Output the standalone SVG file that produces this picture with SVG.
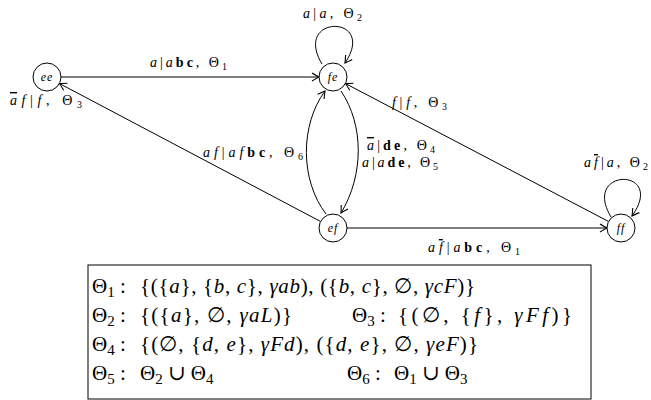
<svg xmlns="http://www.w3.org/2000/svg" width="651" height="400" viewBox="0 0 651 400">
<style>
text{font-family:"Liberation Serif","DejaVu Serif",serif;fill:#000}
.l{font-size:14px}
.n{font-size:12px;font-style:italic;letter-spacing:1px}
.t{font-size:21px}
.i{font-style:italic}
.b{font-weight:bold}
.o{text-decoration:overline}
.node circle{fill:#fff;stroke:#000;stroke-width:1}
.edge{fill:none;stroke:#000;stroke-width:1;marker-end:url(#ar)}
</style>
<defs>
<marker id="ar" markerUnits="userSpaceOnUse" markerWidth="12" markerHeight="12" refX="10" refY="6" orient="auto" viewBox="0 0 12 12">
<path d="M3,2 Q8,5 10,6 Q8,7 3,10" fill="none" stroke="#000" stroke-width="1.1"/>
</marker>
</defs>
<g id="connectors">
<line class="edge" x1="61" y1="77" x2="319" y2="77"/>
<line class="edge" x1="320.6" y1="221.5" x2="59.4" y2="83.5"/>
<line class="edge" x1="608.6" y1="221.5" x2="345.4" y2="83.5"/>
<line class="edge" x1="347" y1="228" x2="607" y2="228"/>
<path class="edge" d="M326,214 C300,180 300,125 325,91"/>
<path class="edge" d="M341,91 C364,125 364,175 341,213"/>
<path class="edge" d="M322,64 C292,14 378,14 345,63"/>
<path class="edge" d="M611,217 C581,167 667,167 632,216"/>
</g>
<g id="labels" class="l">
<text x="150" y="67" textLength="77"><tspan class="i">a</tspan>|<tspan class="i">a</tspan><tspan class="b">bc</tspan>, Θ<tspan font-size="10" dy="3">1</tspan></text>
<text x="10" y="105" textLength="72"><tspan class="i o">a</tspan><tspan class="i">f</tspan>|<tspan class="i">f</tspan>, Θ<tspan font-size="10" dy="3">3</tspan></text>
<text x="303" y="18" textLength="59"><tspan class="i">a</tspan>|<tspan class="i">a</tspan>, Θ<tspan font-size="10" dy="3">2</tspan></text>
<text x="392" y="107" textLength="55"><tspan class="i">f</tspan>|<tspan class="i">f</tspan>, Θ<tspan font-size="10" dy="3">3</tspan></text>
<text x="203" y="157" textLength="100"><tspan class="i">af</tspan>|<tspan class="i">af</tspan><tspan class="b">bc</tspan>, Θ<tspan font-size="10" dy="3">6</tspan></text>
<text x="367" y="150" textLength="68"><tspan class="i o">a</tspan>|<tspan class="b">de</tspan>, Θ<tspan font-size="10" dy="3">4</tspan></text>
<text x="362" y="167" textLength="76"><tspan class="i">a</tspan>|<tspan class="i">a</tspan><tspan class="b">de</tspan>, Θ<tspan font-size="10" dy="3">5</tspan></text>
<text x="584" y="167" textLength="64"><tspan class="i">a</tspan><tspan class="i o">f</tspan>|<tspan class="i">a</tspan>, Θ<tspan font-size="10" dy="3">2</tspan></text>
<text x="428" y="252" textLength="92"><tspan class="i">a</tspan><tspan class="i o">f</tspan>|<tspan class="i">a</tspan><tspan class="b">bc</tspan>, Θ<tspan font-size="10" dy="3">1</tspan></text>
</g>
<g id="ee" class="node"><circle cx="47" cy="77" r="14"/><text class="n" x="47" y="81" text-anchor="middle">ee</text></g>
<g id="fe" class="node"><circle cx="333" cy="77" r="14"/><text class="n" x="333" y="81" text-anchor="middle">fe</text></g>
<g id="ef" class="node"><circle cx="333" cy="228" r="14"/><text class="n" x="333" y="232" text-anchor="middle">ef</text></g>
<g id="ff" class="node"><circle cx="621" cy="228" r="14"/><text class="n" x="621" y="232" text-anchor="middle">ff</text></g>
<g id="table" class="t">
<rect x="88" y="265" width="503" height="134" fill="none" stroke="#000" stroke-width="1"/>
<text x="92" y="293">Θ<tspan font-size="15" dy="4">1</tspan><tspan dy="-4"> :</tspan></text>
<text x="140" y="293" textLength="335">{({<tspan class="i">a</tspan>}, {<tspan class="i">b</tspan>, <tspan class="i">c</tspan>}, <tspan class="i">γab</tspan>), ({<tspan class="i">b</tspan>, <tspan class="i">c</tspan>}, ∅, <tspan class="i">γcF</tspan>)}</text>
<text x="92" y="322">Θ<tspan font-size="15" dy="4">2</tspan><tspan dy="-4"> :</tspan></text>
<text x="140" y="322" textLength="152">{({<tspan class="i">a</tspan>}, ∅, <tspan class="i">γaL</tspan>)}</text>
<text x="352" y="322">Θ<tspan font-size="15" dy="4">3</tspan><tspan dy="-4"> :</tspan></text>
<text x="398" y="322" textLength="174">{(∅, {<tspan class="i">f</tspan>}, <tspan class="i">γFf</tspan>)}</text>
<text x="92" y="351">Θ<tspan font-size="15" dy="4">4</tspan><tspan dy="-4"> :</tspan></text>
<text x="140" y="351" textLength="338">{(∅, {<tspan class="i">d</tspan>, <tspan class="i">e</tspan>}, <tspan class="i">γFd</tspan>), ({<tspan class="i">d</tspan>, <tspan class="i">e</tspan>}, ∅, <tspan class="i">γeF</tspan>)}</text>
<text x="92" y="380">Θ<tspan font-size="15" dy="4">5</tspan><tspan dy="-4"> :</tspan></text>
<text x="140" y="380">Θ<tspan font-size="15" dy="4">2</tspan><tspan dy="-4"> ∪ Θ</tspan><tspan font-size="15" dy="4">4</tspan></text>
<text x="347" y="380">Θ<tspan font-size="15" dy="4">6</tspan><tspan dy="-4"> :</tspan></text>
<text x="394" y="380">Θ<tspan font-size="15" dy="4">1</tspan><tspan dy="-4"> ∪ Θ</tspan><tspan font-size="15" dy="4">3</tspan></text>
</g>
</svg>
